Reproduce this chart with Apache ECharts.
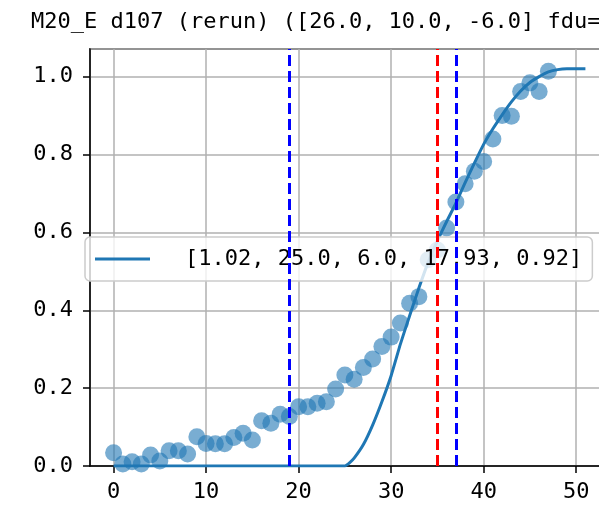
<!DOCTYPE html>
<html>
<head>
<meta charset="utf-8">
<script src="https://cdn.jsdelivr.net/npm/echarts@6/dist/echarts.min.js"></script>
<style>
    html, body { margin: 0; padding: 0; background: #fff; overflow: hidden; }
    /* 图比窗口宽一点, 右边被裁掉 (同原图) */
    #chart { width: 609px; height: 525px; }
</style>
</head>
<body>
<div id="chart"></div>
<script>
// 散点 (观测值)
var point_x = [0, 1, 2, 3, 4, 5, 6, 7, 8, 9, 10, 11, 12, 13, 14, 15, 16, 17, 18, 19, 20, 21, 22, 23,
    24, 25, 26, 27, 28, 29, 30, 31, 32, 33, 34, 35, 36, 37, 38, 39, 40, 41, 42, 43, 44, 45, 46, 47];
var point_y = [0.034, 0.005, 0.011, 0.005, 0.028, 0.013, 0.039, 0.039, 0.031, 0.075, 0.058, 0.057,
    0.057, 0.073, 0.084, 0.067, 0.116, 0.11, 0.133, 0.127, 0.152, 0.152, 0.161, 0.165,
    0.198, 0.234, 0.223, 0.253, 0.275, 0.307, 0.331, 0.367, 0.418, 0.435, 0.53, 0.555,
    0.611, 0.678, 0.725, 0.757, 0.782, 0.84, 0.9, 0.898, 0.962, 0.984, 0.962, 1.014];

// 拟合曲线
var fit_x = [0, 25, 25.5, 26, 27, 28, 29, 30, 31, 32, 33, 34, 35, 36, 37, 38, 39, 40, 41, 42, 43,
    44, 45, 46, 47, 48, 49, 50, 51];
var fit_y = [0, 0, 0.008, 0.02, 0.055, 0.105, 0.165, 0.232, 0.313, 0.386, 0.457, 0.523, 0.578, 0.628,
    0.675, 0.728, 0.778, 0.826, 0.866, 0.902, 0.935, 0.963, 0.985, 1.0, 1.012, 1.018, 1.02, 1.02, 1.02];

var fit_name = '[1.02, 25.0, 6.0, 17.93, 0.92]';
var title_text = 'M20_E d107 (rerun) ([26.0, 10.0, -6.0] fdu=';

// 竖线
var blue_lines = [19, 37];
var red_lines = [35];

var mono = 'DejaVu Sans Mono';

function pairs(xs, ys) {
    var out = [];
    for (var i = 0; i < xs.length; i++) {
        out.push([xs[i], ys[i]]);
    }
    return out;
}

function vlines(xs) {
    var out = [];
    xs.forEach(function (v) {
        out.push({xAxis: v});
    });
    return out;
}

var chart = echarts.init(document.getElementById('chart'));
var option = {
    animation: false,
    title: {
        text: title_text,
        left: 26,
        top: 6,
        textStyle: {fontFamily: mono, fontSize: 22, fontWeight: 'normal', color: '#000'}
    },
    legend: {
        data: [fit_name],
        icon: 'rect',
        left: 85,
        top: 237,
        padding: [11, 10, 11, 10],
        itemWidth: 55,
        itemHeight: 3,
        backgroundColor: 'rgba(255,255,255,0.8)',
        borderColor: '#cccccc',
        borderWidth: 1.5,
        borderRadius: 5,
        textStyle: {fontFamily: mono, fontSize: 22, color: '#000', padding: [0, 0, 0, 30]}
    },
    grid: {
        left: 90,
        right: 0,
        top: 49,
        bottom: 59,
        show: true,
        borderColor: '#000',
        borderWidth: 1.5
    },
    xAxis: {
        type: 'value',
        min: -2.55,
        max: 53.55,
        splitNumber: 5,
        axisLine: {onZero: false, lineStyle: {color: '#000', width: 1.5}},
        axisTick: {length: 7, lineStyle: {color: '#000', width: 1.5}},
        axisLabel: {
            showMinLabel: false, showMaxLabel: false, margin: 15,
            fontFamily: mono, fontSize: 22, color: '#000'
        },
        splitLine: {lineStyle: {color: '#b0b0b0', width: 1.5}}
    },
    yAxis: {
        type: 'value',
        min: 0,
        max: 1.071,
        interval: 0.2,
        axisLine: {show: true, onZero: false, lineStyle: {color: '#000', width: 1.5}},
        axisTick: {show: true, length: 7, lineStyle: {color: '#000', width: 1.5}},
        axisLabel: {
            showMaxLabel: false, margin: 17,
            fontFamily: mono, fontSize: 22, color: '#000',
            formatter: function (v) { return v.toFixed(1); }
        },
        splitLine: {lineStyle: {color: '#b0b0b0', width: 1.5}}
    },
    series: [
        {
            name: 'points',
            type: 'scatter',
            data: pairs(point_x, point_y),
            symbolSize: 17,
            itemStyle: {color: '#1f77b4', opacity: 0.6},
            z: 2
        },
        {
            name: fit_name,
            type: 'line',
            data: pairs(fit_x, fit_y),
            symbol: 'none',
            smooth: 0.15,
            lineStyle: {color: '#1f77b4', width: 3},
            itemStyle: {color: '#1f77b4'},
            z: 3
        },
        {
            name: 'blue',
            type: 'line',
            data: [],
            markLine: {
                silent: true,
                symbol: 'none',
                label: {show: false},
                lineStyle: {color: '#0000ff', width: 3, type: [11, 5], opacity: 1},
                data: vlines(blue_lines)
            },
            z: 4
        },
        {
            name: 'red',
            type: 'line',
            data: [],
            markLine: {
                silent: true,
                symbol: 'none',
                label: {show: false},
                lineStyle: {color: '#ff0000', width: 3, type: [11, 5], opacity: 1},
                data: vlines(red_lines)
            },
            z: 4
        }
    ]
};
chart.setOption(option);
</script>
</body>
</html>
